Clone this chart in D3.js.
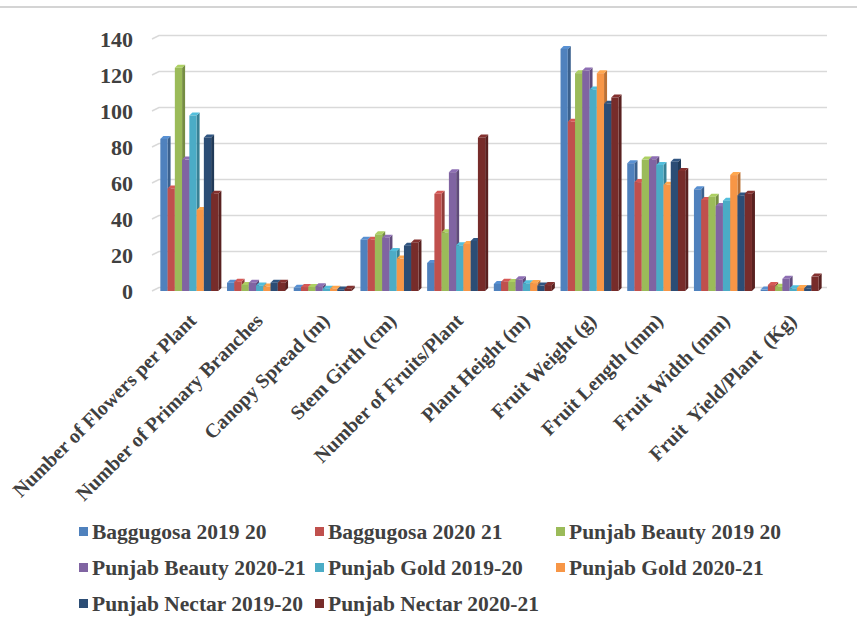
<!DOCTYPE html>
<html>
<head>
<meta charset="utf-8">
<script src="https://cdn.jsdelivr.net/npm/d3@7"></script>
<style>
  body { margin: 0; background: #fff; }
  svg text { font-family: "Liberation Serif", "Times New Roman", serif; font-weight: bold; fill: #404040; }
</style>
</head>
<body>
<svg id="chart"></svg>
<script>
const categories = ['Number of Flowers per Plant', 'Number of Primary Branches', 'Canopy Spread (m)',
  'Stem Girth (cm)', 'Number of Fruits/Plant', 'Plant Height (m)', 'Fruit Weight (g)',
  'Fruit Length (mm)', 'Fruit Width (mm)', 'Fruit  Yield/Plant  (Kg)'];

const seriesNames = ['Baggugosa 2019 20', 'Baggugosa 2020 21', 'Punjab Beauty 2019 20',
  'Punjab Beauty 2020-21', 'Punjab Gold 2019-20', 'Punjab Gold 2020-21',
  'Punjab Nectar 2019-20', 'Punjab Nectar 2020-21'];

const baggugosa1920 = [84.5, 4.6, 1.8, 28.5, 15.6, 3.9, 134.5, 71, 56.5, 0.8];
const baggugosa2021 = [57, 5.2, 2.2, 28.5, 54, 5.2, 94, 60.5, 50.6, 3.3];
const beauty1920 = [124, 3.4, 2.2, 31.5, 32.6, 5, 121, 73, 52.4, 2.4];
const beauty2021 = [73, 4.6, 2.7, 29.6, 66, 6.5, 122.5, 73.2, 47.2, 6.8];
const gold1920 = [97.5, 3.1, 1.3, 22.2, 25.4, 4.3, 112, 70, 50.2, 1.5];
const gold2021 = [45, 2.5, 1.3, 18, 26.1, 4.4, 121, 59, 64.4, 1.7];
const nectar1920 = [85.3, 4.6, 0.9, 25.2, 27.8, 3, 104, 71.8, 53.1, 1.5];
const nectar2021 = [54, 4.6, 1.3, 27, 85.3, 3.3, 107.5, 66.7, 54, 8];

const yTicks = [0, 20, 40, 60, 80, 100, 120, 140];

const series = [baggugosa1920, baggugosa2021, beauty1920, beauty2021, gold1920, gold2021, nectar1920, nectar2021];
const colors = ['#4F81BD', '#C0504D', '#9BBB59', '#8064A2', '#4BACC6', '#F79646', '#2C4D75', '#772C2A'];

const width = 857, height = 630;
const depth = 3;

const svg = d3.select('#chart').attr('width', width).attr('height', height);

// faint rule at top of the page
svg.append('line')
  .attr('x1', 0).attr('x2', width).attr('y1', 7).attr('y2', 7)
  .attr('stroke', '#d4d4d4').attr('stroke-width', 2);

const x0 = d3.scaleBand().domain(categories).range([156, 823]).paddingInner(0.13).paddingOuter(0.065);
const x1 = d3.scaleBand().domain(d3.range(series.length)).range([0, x0.bandwidth()]);
const y = d3.scaleLinear().domain([0, 140]).range([291, 39]);

// gridlines on back wall with a small slant to the front
const grid = svg.append('g');
yTicks.forEach(t => {
  grid.append('path')
    .attr('d', `M152,${y(t)} L159,${y(t) - 3.5} L827,${y(t) - 3.5}`)
    .attr('fill', 'none')
    .attr('stroke', '#d9d9d9')
    .attr('stroke-width', 1.5);
});

// y labels
svg.append('g').selectAll('text')
  .data(yTicks)
  .enter()
  .append('text')
  .attr('x', 133)
  .attr('y', d => y(d) + 8)
  .attr('text-anchor', 'end')
  .style('font-size', '22px')
  .text(d => d);

// bars with a little 3D cap and side
const bars = svg.append('g');
categories.forEach((c, ci) => {
  series.forEach((s, si) => {
    const bx = x0(c) + x1(si);
    const bw = x1.bandwidth();
    const by = y(s[ci]);
    const base = y(0);
    const col = d3.color(colors[si]);
    bars.append('path')
      .attr('d', `M${bx + bw},${by} L${bx + bw + depth},${by - depth} L${bx + bw + depth},${base - depth} L${bx + bw},${base} Z`)
      .attr('fill', col.darker(0.8));
    bars.append('path')
      .attr('d', `M${bx},${by} L${bx + depth},${by - depth} L${bx + bw + depth},${by - depth} L${bx + bw},${by} Z`)
      .attr('fill', col.brighter(0.3));
    bars.append('rect')
      .attr('x', bx)
      .attr('y', by)
      .attr('width', bw)
      .attr('height', base - by)
      .attr('fill', colors[si]);
  });
});

// rotated category labels
svg.append('g').selectAll('text')
  .data(categories)
  .enter()
  .append('text')
  .attr('transform', d => `translate(${x0(d) + x0.bandwidth() / 2 + 8},${322}) rotate(-45)`)
  .attr('text-anchor', 'end')
  .attr('xml:space', 'preserve')
  .style('font-size', '20px')
  .text(d => d);

// legend, three per row
const legendPos = [
  [79, 531], [315, 531], [556, 531],
  [79, 567], [315, 567], [556, 567],
  [79, 603], [315, 603]
];
const legend = svg.append('g');
seriesNames.forEach((n, i) => {
  const [lx, ly] = legendPos[i];
  legend.append('rect')
    .attr('x', lx).attr('y', ly - 4)
    .attr('width', 9).attr('height', 9)
    .attr('fill', colors[i]);
  legend.append('text')
    .attr('x', lx + 13)
    .attr('y', ly + 8)
    .style('font-size', '21.5px')
    .text(n);
});
</script>
</body>
</html>
